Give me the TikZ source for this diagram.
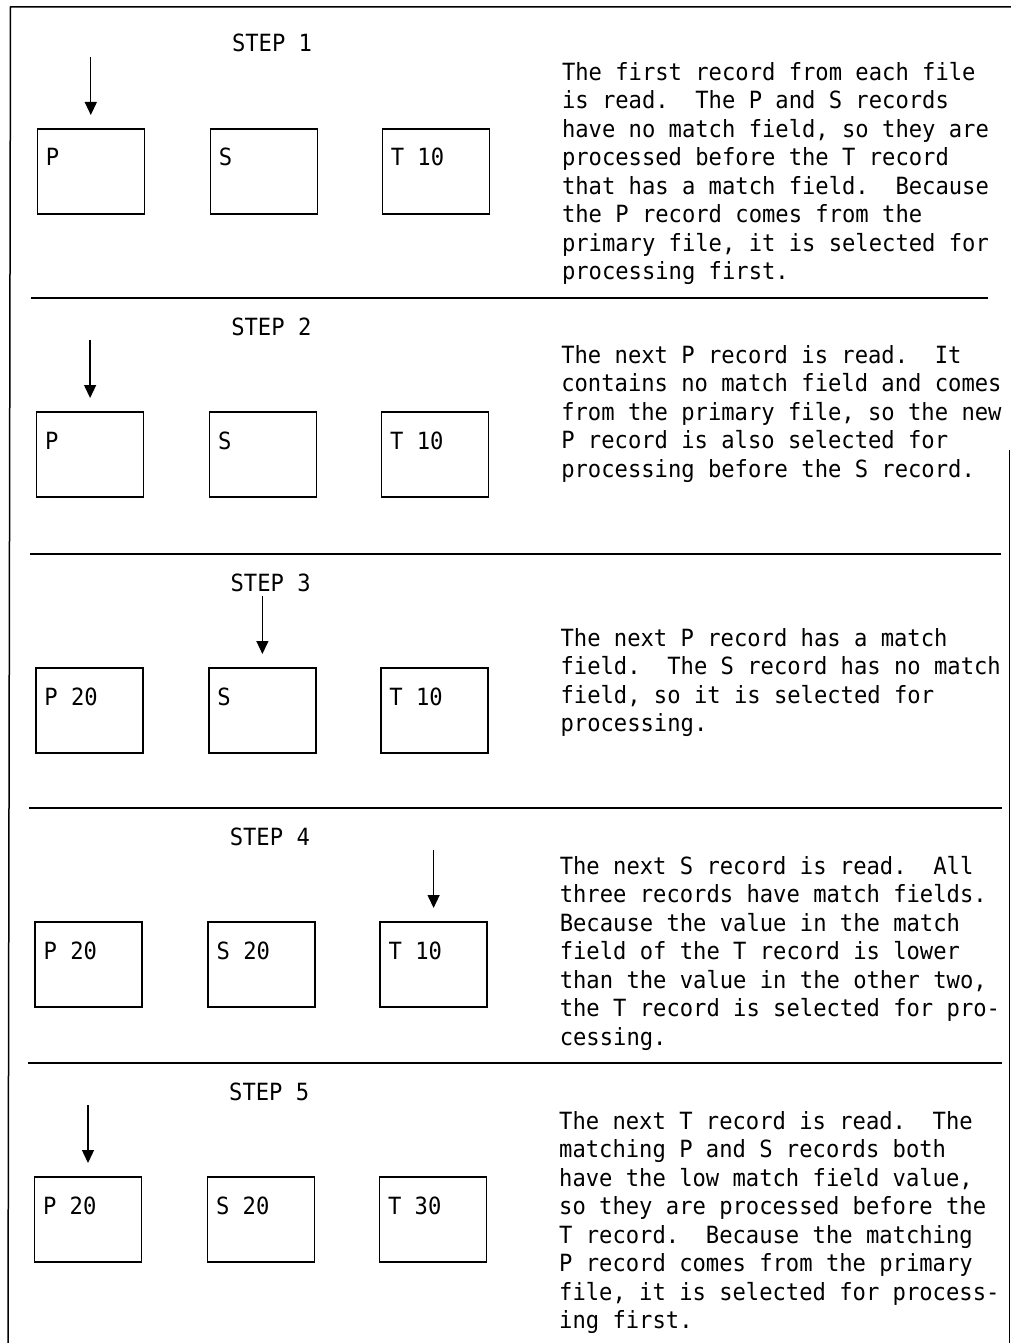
\documentclass[tikz,border=0pt]{standalone}
\usepackage{fontspec}
\newfontfamily\recfont[FakeStretch=0.935]{DejaVu Sans Mono}
\newcommand\rectxt{\recfont\fontsize{23.7pt}{28.43pt}\selectfont\frenchspacing}
\usetikzlibrary{arrows.meta,calc}
\tikzset{
  every node/.style={inner sep=0pt, outer sep=0pt},
  txt/.style={font=\rectxt, align=left, anchor=base west},
  rec/.style={draw, line width=1.5pt, minimum width=107pt, minimum height=85pt, anchor=north west},
  ptr/.style={line width=1.3pt, -{Triangle[width=12pt,length=13pt]}, shorten >=14pt},
  rulerline/.style={line width=2pt},
  framer/.style={line width=1.5pt}
}
\begin{document}
\begin{tikzpicture}[x=1pt,y=-1pt]
\useasboundingbox (0,0) rectangle (1011,1343);
% frame
\coordinate (f1) at (1011,7);
\coordinate (f2) at (10.5,7);
\coordinate (f3) at (8,1343);
\coordinate (f4) at (1009.5,450);
\coordinate (f5) at (1009.5,1343);
\draw[framer] (f1) -- (f2) -- (f3);
\draw[framer] (f4) -- (f5);
% separators
\coordinate (r1a) at (31,298);   \coordinate (r1b) at (988,298);
\coordinate (r2a) at (30,554);   \coordinate (r2b) at (1001,554);
\coordinate (r3a) at (29,808);   \coordinate (r3b) at (1002,808);
\coordinate (r4a) at (28,1063);  \coordinate (r4b) at (1002,1063);
\draw[rulerline] (r1a) -- (r1b);
\draw[rulerline] (r2a) -- (r2b);
\draw[rulerline] (r3a) -- (r3b);
\draw[rulerline] (r4a) -- (r4b);

% ---------------- STEP 1
\node[txt] (h1) at (232,52) {STEP 1};
\node[rec] (p1) at (37.3,129) {};
\node[rec] (s1) at (210.3,129) {};
\node[rec] (t1) at (382.3,129) {};
\node[txt] (p1l) at ($(p1.north west)+(8.5,37)$) {P};
\node[txt] (s1l) at ($(s1.north west)+(8.5,37)$) {S};
\node[txt] (t1l) at ($(t1.north west)+(8.5,37)$) {T 10};
\coordinate (a1) at ($(p1.north)+(0,-72)$);
\draw[ptr] (a1) -- (p1.north);
% anchor = baseline of the last line
\node[txt] (d1) at (562,279.5) {The first record from each file\\
is read.~ The P and S records\\
have no match field, so they are\\
processed before the T record\\
that has a match field.~ Because\\
the P record comes from the\\
primary file, it is selected for\\
processing first.};

% ---------------- STEP 2
\begin{scope}[xshift=-0.7pt]
\node[txt] (h2) at (232,335) {STEP 2};
\node[rec] (p2) at (37.3,412) {};
\node[rec] (s2) at (210.3,412) {};
\node[rec] (t2) at (382.3,412) {};
\node[txt] (p2l) at ($(p2.north west)+(8.5,37)$) {P};
\node[txt] (s2l) at ($(s2.north west)+(8.5,37)$) {S};
\node[txt] (t2l) at ($(t2.north west)+(8.5,37)$) {T 10};
\coordinate (a2) at ($(p2.north)+(0,-72)$);
\draw[ptr] (a2) -- (p2.north);
\node[txt] (d2) at (562,477.2) {The next P record is read.~ It\\
contains no match field and comes\\
from the primary file, so the new\\
P record is also selected for\\
processing before the S record.};
\end{scope}

% ---------------- STEP 3
\begin{scope}[xshift=-1.4pt]
\node[txt] (h3) at (232,591) {STEP 3};
\node[rec] (p3) at (37.3,668) {};
\node[rec] (s3) at (210.3,668) {};
\node[rec] (t3) at (382.3,668) {};
\node[txt] (p3l) at ($(p3.north west)+(8.5,37)$) {P 20};
\node[txt] (s3l) at ($(s3.north west)+(8.5,37)$) {S};
\node[txt] (t3l) at ($(t3.north west)+(8.5,37)$) {T 10};
\coordinate (a3) at ($(s3.north)+(0,-72)$);
\draw[ptr] (a3) -- (s3.north);
\node[txt] (d3) at (562,731.8) {The next P record has a match\\
field.~ The S record has no match\\
field, so it is selected for\\
processing.};
\end{scope}

% ---------------- STEP 4
\begin{scope}[xshift=-2.2pt]
\node[txt] (h4) at (232,845) {STEP 4};
\node[rec] (p4) at (37.3,922) {};
\node[rec] (s4) at (210.3,922) {};
\node[rec] (t4) at (382.3,922) {};
\node[txt] (p4l) at ($(p4.north west)+(8.5,37)$) {P 20};
\node[txt] (s4l) at ($(s4.north west)+(8.5,37)$) {S 20};
\node[txt] (t4l) at ($(t4.north west)+(8.5,37)$) {T 10};
\coordinate (a4) at ($(t4.north)+(0,-72)$);
\draw[ptr] (a4) -- (t4.north);
\node[txt] (d4) at (562,1045.1) {The next S record is read.~ All\\
three records have match fields.\\
Because the value in the match\\
field of the T record is lower\\
than the value in the other two,\\
the T record is selected for pro-\\
cessing.};
\end{scope}

% ---------------- STEP 5
\begin{scope}[xshift=-2.8pt]
\node[txt] (h5) at (232,1100) {STEP 5};
\node[rec] (p5) at (37.3,1177) {};
\node[rec] (s5) at (210.3,1177) {};
\node[rec] (t5) at (382.3,1177) {};
\node[txt] (p5l) at ($(p5.north west)+(8.5,37)$) {P 20};
\node[txt] (s5l) at ($(s5.north west)+(8.5,37)$) {S 20};
\node[txt] (t5l) at ($(t5.north west)+(8.5,37)$) {T 30};
\coordinate (a5) at ($(p5.north)+(0,-72)$);
\draw[ptr] (a5) -- (p5.north);
\node[txt] (d5) at (562,1328.5) {The next T record is read.~ The\\
matching P and S records both\\
have the low match field value,\\
so they are processed before the\\
T record.~ Because the matching\\
P record comes from the primary\\
file, it is selected for process-\\
ing first.};
\end{scope}
\end{tikzpicture}
\end{document}
